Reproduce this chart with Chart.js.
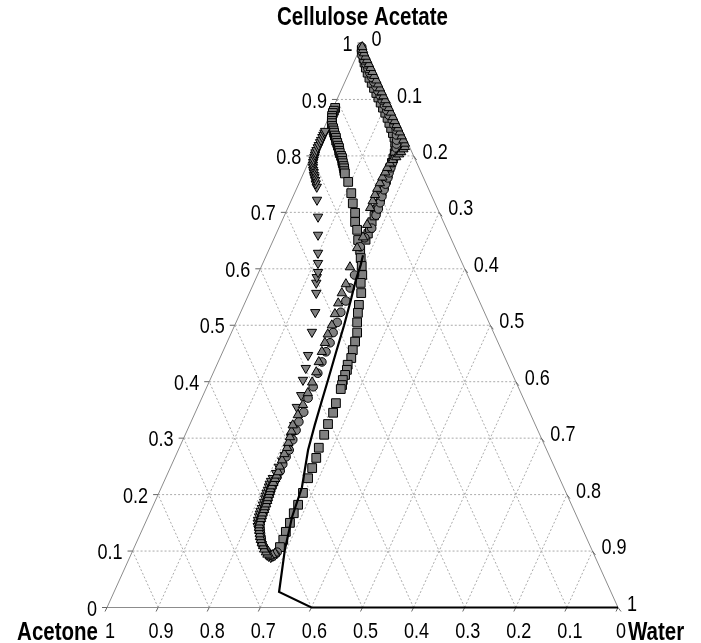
<!DOCTYPE html>
<html><head><meta charset="utf-8">
<script src="https://cdn.jsdelivr.net/npm/chart.js@4.4.0/dist/chart.umd.min.js"></script>
<style>html,body{margin:0;padding:0;background:#fff;}#wrap{width:701px;height:643px;position:relative;}</style>
</head><body><div id="wrap"><canvas id="c" width="701" height="643"></canvas></div>
<script>
// Ternary data: cellulose acetate fraction (ca) and water fraction (water); acetone = 1 - ca - water
const tickValues = [0,0.1,0.2,0.3,0.4,0.5,0.6,0.7,0.8,0.9,1];
const tickLabels = ['0','0.1','0.2','0.3','0.4','0.5','0.6','0.7','0.8','0.9','1'];
const axisTitles = ['Cellulose Acetate','Acetone','Water'];

const caSquaresA = [0.885,0.880,0.876,0.871,0.867,0.862,0.858,0.853,0.849,0.845,0.841,0.836,0.832,0.827,0.823,0.818,0.814,0.809,0.805,0.800,0.796,0.791,0.787,0.782,0.778,0.773,0.769,0.754,0.734,0.716,0.699,0.683,0.669,0.651,0.633,0.619,0.605,0.589,0.575,0.557,0.536,0.522,0.505,0.487,0.471,0.456,0.442,0.430,0.421,0.412,0.403,0.394,0.387,0.362,0.345,0.325,0.306,0.283,0.265,0.247,0.229,0.203,0.182,0.167,0.150,0.134,0.120,0.107];
const waterSquaresA = [0.004,0.004,0.004,0.005,0.007,0.009,0.011,0.014,0.018,0.021,0.024,0.028,0.032,0.035,0.039,0.043,0.047,0.050,0.053,0.058,0.062,0.065,0.068,0.072,0.075,0.078,0.081,0.095,0.111,0.123,0.136,0.144,0.155,0.166,0.179,0.187,0.196,0.205,0.209,0.219,0.225,0.230,0.237,0.246,0.250,0.253,0.257,0.256,0.259,0.260,0.260,0.263,0.264,0.267,0.270,0.270,0.272,0.273,0.277,0.278,0.279,0.282,0.283,0.282,0.283,0.283,0.285,0.285];

const caSquaresB = [0.651,0.662,0.672,0.683,0.694,0.705,0.715,0.726,0.736,0.747,0.757,0.768,0.779,0.788,0.796,0.805,0.814,0.823,0.832,0.840,0.849,0.858,0.867,0.876,0.885,0.894,0.903,0.911,0.920,0.929,0.938,0.947,0.956,0.965,0.973,0.981,0.988];
const waterSquaresB = [0.181,0.180,0.178,0.177,0.176,0.175,0.173,0.172,0.170,0.169,0.168,0.166,0.164,0.163,0.162,0.160,0.157,0.152,0.146,0.139,0.131,0.123,0.115,0.106,0.097,0.088,0.079,0.071,0.062,0.053,0.044,0.036,0.028,0.021,0.015,0.009,0.004];

const caTriDown = [0.093,0.091,0.089,0.091,0.093,0.098,0.102,0.107,0.112,0.118,0.123,0.129,0.134,0.139,0.144,0.150,0.155,0.161,0.166,0.171,0.176,0.182,0.187,0.193,0.198,0.203,0.208,0.214,0.219,0.224,0.229,0.238,0.249,0.260,0.270,0.283,0.302,0.323,0.355,0.376,0.403,0.424,0.447,0.488,0.523,0.557,0.575,0.585,0.594,0.610,0.628,0.660,0.692,0.722,0.745,0.751,0.757,0.762,0.766,0.771,0.775,0.780,0.784,0.789,0.793,0.798,0.802,0.806,0.810,0.815,0.819,0.824,0.828,0.833,0.837,0.841,0.844];
const waterTriDown = [0.282,0.279,0.276,0.271,0.267,0.261,0.256,0.251,0.247,0.242,0.238,0.234,0.231,0.227,0.223,0.220,0.218,0.217,0.216,0.215,0.215,0.214,0.214,0.213,0.212,0.211,0.211,0.210,0.209,0.209,0.210,0.212,0.212,0.213,0.213,0.213,0.209,0.205,0.194,0.192,0.182,0.177,0.170,0.157,0.146,0.131,0.122,0.118,0.116,0.108,0.099,0.083,0.067,0.050,0.038,0.033,0.029,0.025,0.022,0.019,0.016,0.013,0.011,0.009,0.008,0.007,0.006,0.005,0.005,0.005,0.005,0.005,0.005,0.005,0.005,0.005,0.005];

const caTriUp = [0.096,0.093,0.091,0.094,0.098,0.103,0.109,0.114,0.120,0.125,0.130,0.136,0.141,0.146,0.151,0.157,0.162,0.167,0.173,0.178,0.183,0.189,0.194,0.200,0.205,0.210,0.215,0.221,0.228,0.234,0.240,0.250,0.261,0.272,0.283,0.292,0.302,0.312,0.323,0.341,0.359,0.380,0.399,0.417,0.435,0.453,0.469,0.484,0.500,0.520,0.539,0.557,0.573,0.603,0.637,0.656,0.678,0.708,0.720,0.731,0.742,0.752,0.762,0.771,0.779,0.787,0.793,0.798,0.803,0.807,0.812,0.816,0.822,0.828,0.835,0.842,0.849,0.855,0.862,0.869,0.877,0.885,0.892,0.899,0.906,0.913,0.920,0.927,0.934,0.942,0.949,0.956,0.963,0.970,0.976,0.982,0.988,0.993];
const waterTriUp = [0.281,0.277,0.273,0.267,0.262,0.256,0.251,0.246,0.241,0.237,0.234,0.230,0.227,0.225,0.224,0.223,0.222,0.221,0.221,0.220,0.220,0.219,0.218,0.217,0.216,0.215,0.215,0.215,0.215,0.215,0.215,0.213,0.212,0.211,0.211,0.209,0.207,0.205,0.202,0.203,0.204,0.203,0.202,0.201,0.197,0.194,0.192,0.190,0.190,0.186,0.183,0.181,0.181,0.174,0.171,0.173,0.170,0.161,0.160,0.159,0.158,0.158,0.158,0.159,0.159,0.160,0.163,0.167,0.170,0.172,0.174,0.175,0.172,0.166,0.159,0.152,0.145,0.139,0.132,0.125,0.117,0.109,0.102,0.095,0.088,0.081,0.074,0.067,0.060,0.052,0.045,0.038,0.031,0.024,0.018,0.012,0.007,0.003];

const caCircles = [0.098,0.094,0.091,0.093,0.095,0.100,0.104,0.109,0.114,0.120,0.125,0.131,0.136,0.141,0.146,0.152,0.157,0.162,0.167,0.173,0.178,0.184,0.189,0.194,0.199,0.205,0.210,0.216,0.221,0.226,0.231,0.242,0.254,0.267,0.279,0.297,0.314,0.329,0.346,0.371,0.391,0.415,0.435,0.453,0.469,0.487,0.505,0.523,0.543,0.566,0.589,0.639,0.655,0.672,0.695,0.706,0.717,0.728,0.740,0.750,0.761,0.770,0.779,0.788,0.796,0.805,0.814,0.821,0.828,0.837,0.846,0.855,0.864,0.872,0.881,0.890,0.899,0.907,0.915,0.923,0.931,0.939,0.947,0.955,0.963,0.970,0.978,0.986,0.993];
const waterCircles = [0.284,0.282,0.279,0.274,0.268,0.262,0.257,0.251,0.246,0.242,0.239,0.235,0.232,0.229,0.226,0.224,0.223,0.222,0.222,0.221,0.220,0.219,0.219,0.218,0.218,0.217,0.216,0.216,0.216,0.216,0.217,0.218,0.217,0.217,0.217,0.215,0.213,0.211,0.212,0.208,0.208,0.205,0.203,0.202,0.202,0.199,0.198,0.196,0.196,0.193,0.190,0.176,0.177,0.182,0.179,0.178,0.176,0.174,0.172,0.170,0.169,0.167,0.166,0.165,0.164,0.161,0.159,0.156,0.153,0.148,0.143,0.134,0.126,0.116,0.107,0.098,0.089,0.081,0.073,0.065,0.057,0.049,0.041,0.033,0.025,0.018,0.010,0.005,0.002];

const caBinodal = [0,0,0.0275,0.102,0.160,0.213,0.279,0.323,0.368,0.403,0.453,0.500,0.544,0.580,0.607,0.624];
const waterBinodal = [1,0.4,0.323,0.297,0.282,0.275,0.254,0.245,0.237,0.231,0.222,0.214,0.205,0.197,0.193,0.189];

function toXY(ca, water){ return ca.map((c,i)=>({x: water[i] + c/2, y: c})); }

const FF = '"Liberation Sans",Arial,sans-serif';
const NARROW = 0.82;
function narrowText(ctx, text, x, y, align){
  ctx.save();
  ctx.translate(x, y);
  ctx.scale(NARROW, 1);
  ctx.textAlign = align; ctx.textBaseline = 'middle';
  ctx.fillText(text, 0, 0);
  ctx.restore();
}

const ternaryFrame = {
  id: 'ternaryFrame',
  beforeDatasetsDraw(chart){
    const ctx = chart.ctx, xs = chart.scales.x, ys = chart.scales.y;
    const P = (c, w) => [xs.getPixelForValue(w + c/2), ys.getPixelForValue(c)];
    const seg = (a, b) => { ctx.beginPath(); ctx.moveTo(a[0], a[1]); ctx.lineTo(b[0], b[1]); ctx.stroke(); };
    ctx.save();
    ctx.strokeStyle = '#ababab'; ctx.lineWidth = 1; ctx.setLineDash([2,2]);
    for (let k = 1; k < tickValues.length - 1; k++){
      const v = tickValues[k];
      seg(P(v,0), P(v,1-v));
      seg(P(0,v), P(1-v,v));
      seg(P(0,1-v), P(1-v,0));
    }
    ctx.setLineDash([]);
    ctx.strokeStyle = '#8c8c8c';
    seg(P(0,0), P(1,0)); seg(P(1,0), P(0,1)); seg(P(0,0), P(0,1));
    ctx.fillStyle = '#000'; ctx.strokeStyle = '#666';
    ctx.font = '22px ' + FF;
    tickValues.forEach((v, i) => {
      const L = P(v, 0);
      seg([L[0]-5, L[1]], L);
      narrowText(ctx, tickLabels[i], L[0] - 10, L[1] + 2, 'right');
      const R = P(1-v, v);
      seg(R, [R[0]+3, R[1]+4]);
      narrowText(ctx, tickLabels[i], R[0] + 9, R[1] - 3, 'left');
      const B = P(0, 1-v);
      seg(B, [B[0]-2, B[1]+4]);
      narrowText(ctx, tickLabels[i], B[0] + 3, 632, 'center');
    });
    ctx.font = 'bold 25px ' + FF;
    const apex = P(1,0);
    narrowText(ctx, axisTitles[0], apex[0], 18, 'center');
    narrowText(ctx, axisTitles[1], 98, 633, 'right');
    narrowText(ctx, axisTitles[2], 628, 633, 'left');
    ctx.restore();
  }
};

const mk = {showLine:false, backgroundColor:'#808080', borderColor:'#000', borderWidth:1, clip:false, pointHoverRadius:0};

new Chart(document.getElementById('c'), {
  type: 'scatter',
  data: { datasets: [
    {label:'Binodal', data: toXY(caBinodal, waterBinodal), showLine:true, borderColor:'#000', borderWidth:2.2, pointRadius:0, fill:false, clip:false, tension:0},
    {label:'TrianglesUp', ...mk, data: toXY(caTriUp, waterTriUp), pointStyle:'triangle', pointRadius:5.4},
    {label:'Circles', ...mk, data: toXY(caCircles, waterCircles), pointStyle:'circle', pointRadius:4.3},
    {label:'TrianglesDown', ...mk, data: toXY(caTriDown, waterTriDown), pointStyle:'triangle', pointRotation:180, pointRadius:5.4},
    {label:'SquaresB', ...mk, data: toXY(caSquaresB, waterSquaresB), pointStyle:'rect', pointRadius:5.8},
    {label:'SquaresA', ...mk, data: toXY(caSquaresA, waterSquaresA), pointStyle:'rect', pointRadius:6.2}
  ]},
  options: {
    responsive:false, animation:false, events:[],
    layout:{padding:{left:107, right:83, top:43, bottom:35.5}},
    scales:{
      x:{type:'linear', min:0, max:1, display:false},
      y:{type:'linear', min:0, max:1, display:false}
    },
    plugins:{legend:{display:false}, tooltip:{enabled:false}}
  },
  plugins:[ternaryFrame]
});
</script></body></html>
